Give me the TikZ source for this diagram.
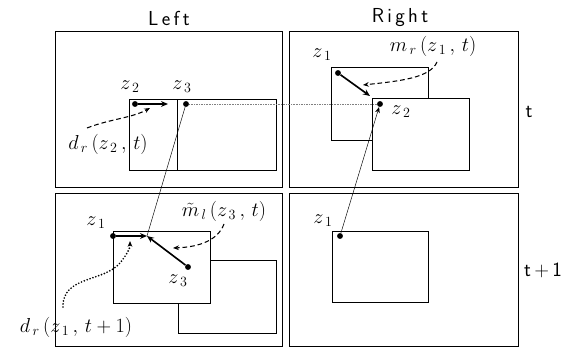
\documentclass[tikz,border=0pt]{standalone}
\usepackage{amsmath}
\usetikzlibrary{arrows.meta}
\tikzset{
  panel/.style={draw,line width=0.6pt},
  block/.style={draw,line width=0.5pt,fill=white},
  dot/.style={circle,fill,inner sep=0pt,minimum size=5pt},
  motion/.style={line width=1.4pt,-{Stealth[length=6pt,width=5pt]}},
  hint/.style={line width=0.9pt,dash pattern=on 4pt off 2.5pt,-{Stealth[length=5pt,width=4pt]}},
  dotty/.style={line width=1.6pt,dash pattern=on 0pt off 2.6pt,line cap=round,-{Stealth[length=5pt,width=4pt]}},
  track/.style={line width=0.4pt},
  lbl/.style={font=\LARGE,inner sep=1pt},
  head/.style={font=\sffamily\LARGE,inner sep=1pt},
}
\begin{document}
\begin{tikzpicture}[x=0.03cm,y=-0.03cm]
  \useasboundingbox (0,0) rectangle (568,349);
  % column and row titles
  \node[head] (left) at (169,18) {L\,e\,f\,t};
  \node[head] (right) at (400,18) {R\,i\,g\,h\,t};
  \node[head] (rowt) at (529,112) {t};
  \node[head] (rowt1) at (543,270) {t\,+\,1};
  % the four frames
  \draw[panel] (55,31) rectangle (282,187);
  \draw[panel] (289,31) rectangle (518,187);
  \draw[panel] (55,193) rectangle (282,346);
  \draw[panel] (289,193) rectangle (518,346);
  % blocks
  \draw[block] (129,99) rectangle (177,170);
  \draw[block] (177,99) rectangle (276,170);
  \draw[block] (331,67) rectangle (428,140);
  \draw[block] (372,98) rectangle (469,170);
  \draw[block] (178,260) rectangle (276,333);
  \draw[block] (113,231) rectangle (210,303);
  \draw[block] (332,231) rectangle (428,302);
  % points
  \node[dot] (lz2) at (135,104) {};
  \node[dot] (lz3) at (186,104) {};
  \node[dot] (rz1) at (338,73) {};
  \node[dot] (rz2) at (380,104) {};
  \node[dot] (bz1) at (113,236) {};
  \node[dot] (bz3) at (188,267) {};
  \node[dot] (brz1) at (340,236) {};
  \coordinate (lend) at (168,104);
  \coordinate (rjoin) at (370,96);
  \coordinate (bjoin) at (147,236);
  % point labels
  \node[lbl] (tlz2) at (130,87) {$z_{\,2}$};
  \node[lbl] (tlz3) at (182,87) {$z_{\,3}$};
  \node[lbl] (trz1) at (322,55) {$z_{\,1}$};
  \node[lbl] (trz2) at (401,112) {$z_{\,2}$};
  \node[lbl] (tbz1) at (96,223) {$z_{\,1}$};
  \node[lbl] (tbz3) at (178,281) {$z_{\,3}$};
  \node[lbl] (tbrz1) at (323,221) {$z_{\,1}$};
  % term labels
  \node[lbl] (dz2) at (108,144) {$d_{\,r}\,(z_{\,2}\,,\,t)$};
  \node[lbl] (mz1) at (433,46) {$m_{\,r}\,(z_{\,1}\,,\,t)$};
  \node[lbl] (mz3) at (224,211) {$\tilde{m}_{\,l}\,(z_{\,3}\,,\,t)$};
  \node[lbl] (dz1) at (76,327) {$d_{\,r}\,(z_{\,1}\,,\,t+1)$};
  % correspondences
  \draw[track,gray,densely dotted] (lz3) -- (rz2);
  \draw[track] (lz3) -- (bjoin);
  \draw[track,-{Stealth[length=5pt,width=4pt]}] (brz1) -- (rz2);
  % motions
  \draw[motion] (lz2) -- (lend);
  \draw[motion] (rz1) -- (rjoin);
  \draw[motion] (bz1) -- (bjoin);
  \draw[motion] (bz3) -- (bjoin);
  % pointers to the terms
  \draw[hint] (87,128) .. controls (110,119) and (132,118) .. (150,108);
  \draw[hint] (437,62) .. controls (430,78) and (400,81) .. (363,85);
  \draw[hint] (224,224) .. controls (218,240) and (200,247) .. (173,248);
  \draw[dotty] (63,307) .. controls (62,276) and (104,282) .. (120,263) .. controls (127,254) and (130,249) .. (130,241);
\end{tikzpicture}
\end{document}
